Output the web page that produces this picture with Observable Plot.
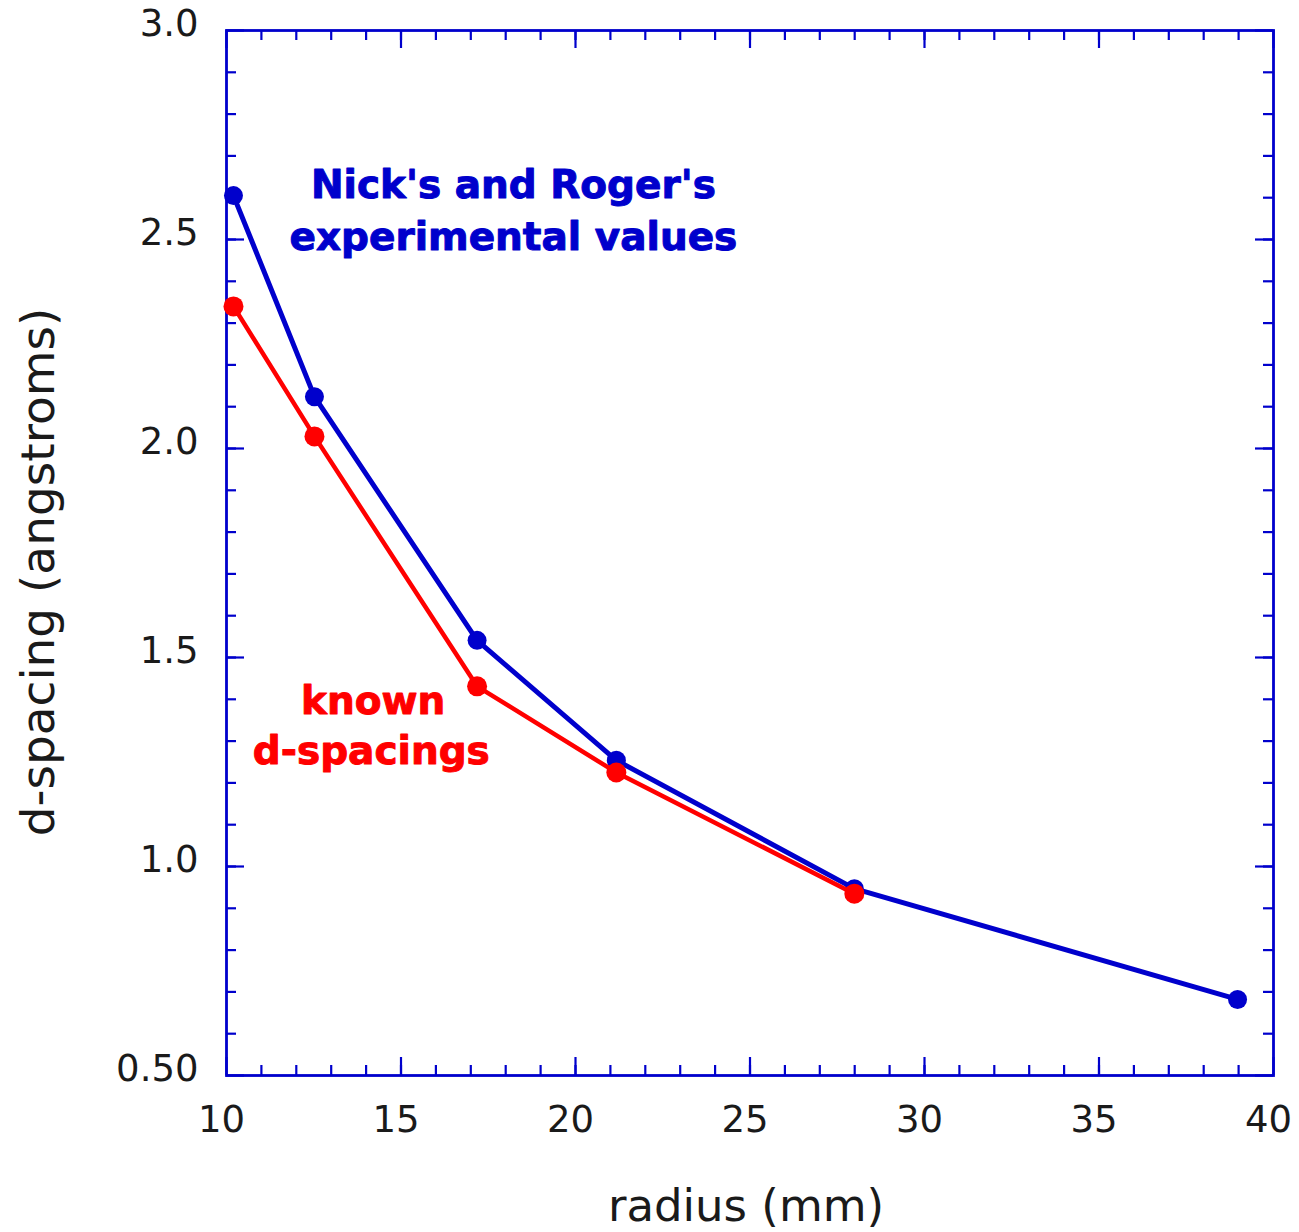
<!DOCTYPE html>
<html>
<head>
<meta charset="utf-8">
<script src="https://cdn.jsdelivr.net/npm/d3@7"></script>
<script src="https://cdn.jsdelivr.net/npm/@observablehq/plot@0.6"></script>
<style>
  html, body { margin: 0; padding: 0; background: #fff; }
  #chart svg { display: block; }
</style>
</head>
<body>
<div id="chart"></div>
<script>
// ---- data ----
const radius = [10.2, 12.52, 17.18, 21.17, 27.99, 38.97];
const experimental = [2.605, 2.124, 1.541, 1.254, 0.947, 0.682];
const known = [2.340, 2.029, 1.431, 1.225, 0.935];

const xTickValues = [10, 15, 20, 25, 30, 35, 40];
const xMinorValues = d3.range(11, 40, 1);
const yTickValues = [0.5, 1.0, 1.5, 2.0, 2.5, 3.0];
const yTickLabels = ["0.50", "1.0", "1.5", "2.0", "2.5", "3.0"];
const yMinorValues = d3.range(6, 30, 1).map(d => d / 10);

const labelText = ["Nick's and Roger's", "experimental values", "known", "d-spacings"];
const labelX = [18.22, 18.22, 14.2, 14.15];
const labelY = [2.600, 2.476, 1.366, 1.246];
const labelSeries = ["exp", "exp", "known", "known"];

const BLUE = "#0000cc";
const RED = "#ff0000";

const expData = radius.map((r, i) => ({r, d: experimental[i]}));
const knownData = known.map((d, i) => ({r: radius[i], d}));
const labels = labelText.map((t, i) => ({t, x: labelX[i], y: labelY[i], s: labelSeries[i]}));

const W = 1299, H = 1232;
const mL = 226, mR = 26, mT = 30, mB = 157;
const fw = W - mL - mR, fh = H - mT - mB;
const FONT = "DejaVu Sans, Verdana, sans-serif";

const minorLen = 10, majorLen = 18;

const plot = Plot.plot({
  width: W,
  height: H,
  marginLeft: mL,
  marginRight: mR,
  marginTop: mT,
  marginBottom: mB,
  style: {fontFamily: FONT, background: "#fff", color: "#1a1a1a"},
  x: {domain: [10, 40]},
  y: {domain: [0.5, 3.0]},
  marks: [
    // tick marks (inward, all four sides)
    Plot.tickX(xMinorValues, {x: d => d, insetTop: fh - minorLen, stroke: BLUE, strokeWidth: 2.2}),
    Plot.tickX(xMinorValues, {x: d => d, insetBottom: fh - minorLen, stroke: BLUE, strokeWidth: 2.2}),
    Plot.tickX(xTickValues, {x: d => d, insetTop: fh - majorLen, stroke: BLUE, strokeWidth: 2.2}),
    Plot.tickX(xTickValues, {x: d => d, insetBottom: fh - majorLen, stroke: BLUE, strokeWidth: 2.2}),
    Plot.tickY(yMinorValues, {y: d => d, insetRight: fw - minorLen, stroke: BLUE, strokeWidth: 2.2}),
    Plot.tickY(yMinorValues, {y: d => d, insetLeft: fw - minorLen, stroke: BLUE, strokeWidth: 2.2}),
    Plot.tickY(yTickValues, {y: d => d, insetRight: fw - majorLen, stroke: BLUE, strokeWidth: 2.2}),
    Plot.tickY(yTickValues, {y: d => d, insetLeft: fw - majorLen, stroke: BLUE, strokeWidth: 2.2}),
    Plot.frame({stroke: BLUE, strokeWidth: 2.8}),
    // tick labels
    Plot.axisX(xTickValues, {anchor: "bottom", tickSize: 0, tickPadding: 30, fontSize: 37, dx: -5, label: null, fill: "#1a1a1a"}),
    Plot.axisY(yTickValues, {anchor: "left", tickSize: 0, tickPadding: 28, fontSize: 37, dy: -6, label: null, fill: "#1a1a1a",
      tickFormat: d => yTickLabels[yTickValues.indexOf(d)]}),
    // axis titles
    Plot.text(["radius (mm)"], {frameAnchor: "bottom", text: d => d, dy: 145, dx: -4, lineAnchor: "bottom", textAnchor: "middle", fontSize: 45, fill: "#1a1a1a"}),
    Plot.text(["d-spacing (angstroms)"], {frameAnchor: "left", text: d => d, rotate: -90, dx: -173, dy: 19, lineAnchor: "bottom", textAnchor: "middle", fontSize: 47, fill: "#1a1a1a"}),
    // series
    Plot.line(expData, {x: "r", y: "d", stroke: BLUE, strokeWidth: 5, strokeLinejoin: "round"}),
    Plot.dot(expData, {x: "r", y: "d", r: 9.5, fill: BLUE}),
    Plot.line(knownData, {x: "r", y: "d", stroke: RED, strokeWidth: 4.5, strokeLinejoin: "round"}),
    Plot.dot(knownData, {x: "r", y: "d", r: 10, fill: RED}),
    // annotations
    Plot.text(labels, {x: "x", y: "y", text: "t", lineAnchor: "bottom", textAnchor: "middle",
      fill: d => d.s === "exp" ? BLUE : RED, stroke: d => d.s === "exp" ? BLUE : RED, strokeWidth: 1,
      fontSize: 39, fontWeight: "bold"})
  ]
});

document.getElementById("chart").appendChild(plot);
</script>
</body>
</html>
